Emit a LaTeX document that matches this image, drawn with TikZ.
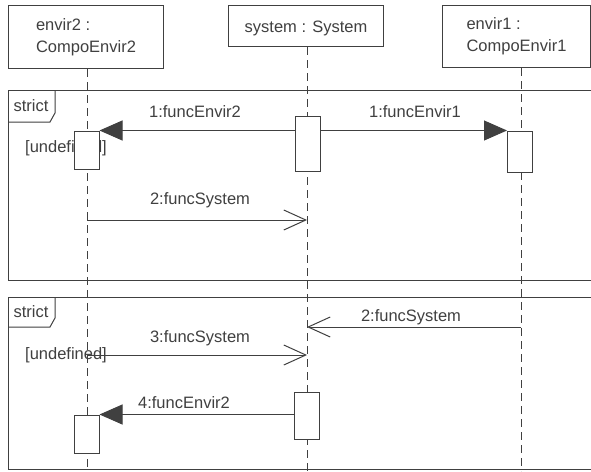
\documentclass[tikz,border=0pt]{standalone}
\usepackage{fontspec}
\setmainfont{Liberation Sans}
\usetikzlibrary{arrows.meta}
\definecolor{ink}{HTML}{404040}
\begin{document}
\begin{tikzpicture}[x=1pt,y=-1pt,line width=1pt,
  every node/.style={font=\fontsize{16.5}{22}\selectfont,text=ink,inner sep=0pt},
  head/.style={draw=ink,fill=white,anchor=north west,align=left},
  act/.style={draw=ink,fill=white,minimum width=25pt},
  lifeline/.style={draw=ink,dash pattern=on 8pt off 5pt},
  frame/.style={draw=ink},
  sync/.style={draw=ink,-{Triangle[length=23pt,width=20pt]}},
  async/.style={draw=ink,-{Straight Barb[length=22pt,width=20pt]}},
  lbl/.style={font=\fontsize{16.5}{22}\selectfont}]
\clip (0,0) rectangle (591,471);
\fill[white] (0,0) rectangle (591,471);
% frames
\draw[frame] (8,90) rectangle (600,280);
\draw[frame] (8,297) rectangle (600,469.5);
\draw[frame] (8,122) -- (50,122) -- (55,113) -- (55,90);
\draw[frame] (8,327) -- (50,327) -- (55,318) -- (55,297);
\node[lbl] (s1) at (31,106) {strict};
\node[lbl] (s2) at (31,312) {strict};
% heads
\node[head,minimum width=155pt,minimum height=63pt] (e2) at (8,5) {};
\node[align=left] (e2t) at (e2.center) {envir2 :\\CompoEnvir2};
\node[head,minimum width=155pt,minimum height=41pt] (sy) at (228,5) {};
\node (syt) at ([yshift=-2pt]sy.center) {system : System};
\node[head,minimum width=148pt,minimum height=62pt] (e1) at (442,5) {};
\node[align=left] (e1t) at (e1.center) {envir1 :\\CompoEnvir1};
% lifeline ends
\coordinate (e2b) at (87,471);
\coordinate (syb) at (307,471);
\coordinate (e1b) at (521,471);
\draw[lifeline] (e2.south -| e2b) -- (e2b);
\draw[lifeline] (sy.south -| syb) -- (syb);
\draw[lifeline] (e1.south -| e1b) -- (e1b);
% guards
\node (g1) at (66,148) {[undefined]};
\node (g2) at (66,355) {[undefined]};
% activations
\node[act,minimum height=55pt] (sa1) at (307.5,143.5) {};
\node[act,minimum height=38pt] (e2a1) at (86.5,150) {};
\node[act,minimum height=41pt] (e1a1) at (520,151.5) {};
\node[act,minimum height=47pt] (sa2) at (307,415.5) {};
\node[act,minimum height=38pt] (e2a2) at (86.5,434) {};
% message coordinates
\coordinate (m2a) at (87,220);
\coordinate (m2b) at (307,220);
\coordinate (m5a) at (521,327);
\coordinate (m5b) at (307,327);
\coordinate (m3a) at (87,355);
\coordinate (m3b) at (307,355);
% messages
\draw[sync] (sa1.west |- e2a1.north) -- (e2a1.north east);
\draw[sync] (sa1.east |- e1a1.north) -- (e1a1.north west);
\draw[async] (m2a) -- (m2b);
\draw[async] (m5a) -- (m5b);
\draw[async] (m3a) -- (m3b);
\draw[sync] (sa2.west |- e2a2.north) -- (e2a2.north east);
% labels
\node[lbl] (l1) at (195,112) {1:funcEnvir2};
\node[lbl] (l2) at (415,112) {1:funcEnvir1};
\node[lbl] (l3) at (200,200) {2:funcSystem};
\node[lbl] (l4) at (411,317) {2:funcSystem};
\node[lbl] (l5) at (200,338) {3:funcSystem};
\node[lbl] (l6) at (184,403) {4:funcEnvir2};
\end{tikzpicture}
\end{document}
